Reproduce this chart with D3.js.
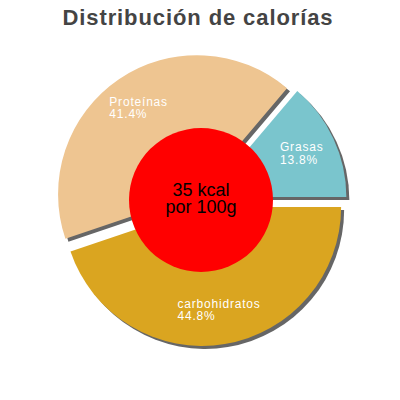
<!DOCTYPE html>
<html>
<head>
<meta charset="utf-8">
<script src="https://cdn.jsdelivr.net/npm/d3@7"></script>
<style>
  html, body { margin: 0; padding: 0; background: #fff; }
  svg { display: block; }
</style>
</head>
<body>
<svg id="chart" width="400" height="400"></svg>
<script>
const title = "Distribución de calorías";
const categories = ["Grasas", "carbohidratos", "Proteínas"];
const values = [13.8, 44.8, 41.4];
const percentLabels = ["13.8%", "44.8%", "41.4%"];
const colors = ["#7AC5CD", "#DAA520", "#EEC591"];
const centerLines = ["35 kcal", "por 100g"];

const W = 400, H = 400;
const cx = 201, cy = 200, R = 139, explode = 7, labelR = 104, innerR = 72;
const font = "'Liberation Sans', Arial, Helvetica, sans-serif";

const svg = d3.select("#chart");

svg.append("text")
  .attr("x", 198).attr("y", 25)
  .attr("text-anchor", "middle")
  .attr("font-family", font)
  .attr("font-size", 22)
  .attr("font-weight", "bold")
  .attr("letter-spacing", 0.9)
  .attr("fill", "#444444")
  .text(title);

const total = d3.sum(values);
const start = Math.PI / 2 - 2 * Math.PI * values[0] / total;
const pie = d3.pie().sort(null).value(d => d)
  .startAngle(start).endAngle(start + 2 * Math.PI);
const arcs = pie(values);
const arc = d3.arc().innerRadius(0).outerRadius(R);
const labelArc = d3.arc().innerRadius(labelR).outerRadius(labelR);

function off(d) {
  const a = (d.startAngle + d.endAngle) / 2;
  return [cx + explode * Math.sin(a), cy - explode * Math.cos(a)];
}

// shadows
svg.append("g").selectAll("path").data(arcs).join("path")
  .attr("transform", d => { const o = off(d); return `translate(${o[0] + 3},${o[1] + 3})`; })
  .attr("d", arc)
  .attr("fill", "#666666");

// slices
svg.append("g").selectAll("path").data(arcs).join("path")
  .attr("transform", d => { const o = off(d); return `translate(${o[0]},${o[1]})`; })
  .attr("d", arc)
  .attr("fill", (d, i) => colors[i]);

// labels
const lg = svg.append("g").selectAll("g").data(arcs).join("g");
lg.each(function(d, i) {
  const o = off(d);
  const c = labelArc.centroid(d);
  const px = o[0] + c[0], py = o[1] + c[1];
  const g = d3.select(this);
  const t1 = g.append("text").attr("y", py - 2).text(categories[i]);
  const t2 = g.append("text").attr("y", py + 10.3).text(percentLabels[i]);
  g.selectAll("text")
    .attr("font-family", font)
    .attr("font-size", 12)
    .attr("letter-spacing", 0.8)
    .attr("fill", "#ffffff");
  const w = Math.max(t1.node().getComputedTextLength(), t2.node().getComputedTextLength());
  g.selectAll("text").attr("x", px - w / 2);
});

// center circle
svg.append("circle")
  .attr("cx", cx).attr("cy", cy).attr("r", innerR)
  .attr("fill", "#ff0000");

svg.append("g").selectAll("text").data(centerLines).join("text")
  .attr("x", cx)
  .attr("y", (d, i) => cy - 4 + i * 16.5)
  .attr("text-anchor", "middle")
  .attr("font-family", font)
  .attr("font-size", 18)
  .attr("fill", "#000000")
  .text(d => d);
</script>
</body>
</html>
